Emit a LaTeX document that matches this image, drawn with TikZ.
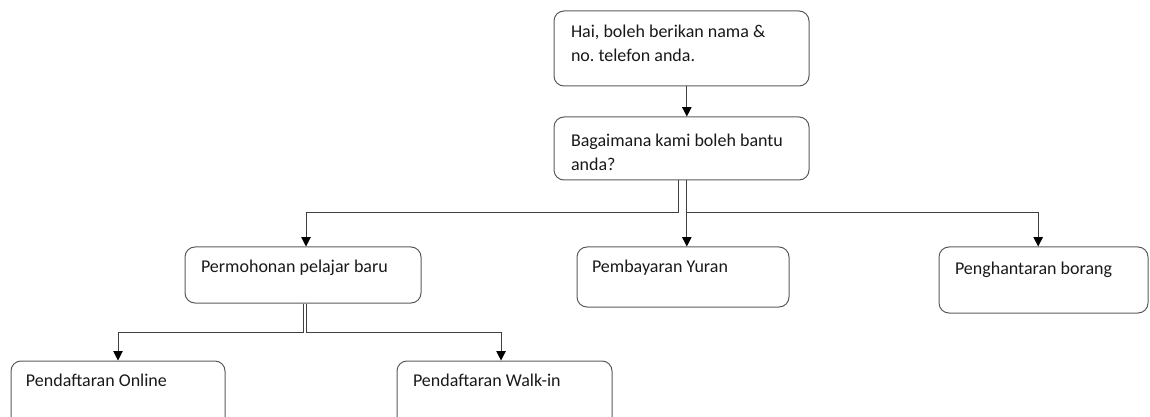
\documentclass[tikz,border=0pt]{standalone}
\usepackage{fontspec}
\setmainfont{Carlito}
\usetikzlibrary{arrows.meta}
\definecolor{lineGray}{RGB}{64,64,64}
\definecolor{boxGray}{RGB}{90,90,90}
\tikzset{every picture/.style={line width=0.75pt}}
\tikzset{
flowbox/.style={draw=boxGray, rounded corners=7.5pt, inner sep=0pt},
boxtext/.style={anchor=base west, inner sep=0pt, align=left, text=black!90,
  font=\fontsize{13.5pt}{18pt}\selectfont},
flowarrow/.style={draw=lineGray, -{Triangle[length=7pt,width=7pt,color=black]}},
flowline/.style={draw=lineGray}}

\begin{document}
\begin{tikzpicture}[x=0.75pt,y=0.75pt,yscale=-1,xscale=1]
\useasboundingbox (0,0) rectangle (1150,417);

% Boxes
\node[flowbox, minimum width=191.25pt, minimum height=56.25pt] (greet) at (681.5,48.5) {};
\node[flowbox, minimum width=191.25pt, minimum height=47.25pt] (ask) at (681.5,148.5) {};
\node[flowbox, minimum width=177pt, minimum height=42pt] (newstudent) at (303,275) {};
\node[flowbox, minimum width=159pt, minimum height=45pt] (fees) at (683,277) {};
\node[flowbox, minimum width=156.75pt, minimum height=49.5pt] (forms) at (1043.5,280) {};
\node[flowbox, minimum width=160.5pt, minimum height=54pt] (online) at (118,397) {};
\node[flowbox, minimum width=161.25pt, minimum height=54pt] (walkin) at (504.5,397) {};

% Text Node (two lines: base sits on the last line)
\node[boxtext] (greet-t) at ([shift={(17,51)}]greet.north west) {Hai, boleh berikan nama \&\\no.\ telefon anda.};
% Text Node
\node[boxtext] (ask-t) at ([shift={(17,54)}]ask.north west) {Bagaimana kami boleh bantu\\anda?};
% Text Node
\node[boxtext] (newstudent-t) at ([shift={(16,26)}]newstudent.north west) {Permohonan pelajar baru};
% Text Node
\node[boxtext] (fees-t) at ([shift={(15,26)}]fees.north west) {Pembayaran Yuran};
% Text Node
\node[boxtext] (forms-t) at ([shift={(16,28)}]forms.north west) {Penghantaran borang};
% Text Node
\node[boxtext] (online-t) at ([shift={(15,26)}]online.north west) {Pendaftaran Online};
% Text Node
\node[boxtext] (walkin-t) at ([shift={(16,26)}]walkin.north west) {Pendaftaran Walk-in};

% Connectors
\coordinate (lvlone) at (0,213);
\coordinate (lvltwo) at (0,332);
\draw[flowarrow] ([xshift=4pt]greet.south) -- ([xshift=4pt]ask.north);
\draw[flowarrow] ([xshift=-2.6pt]ask.south) |- ([xshift=2.25pt]newstudent.north |- lvlone) -- ([xshift=2.25pt]newstudent.north);
\draw[flowarrow] ([xshift=4pt]ask.south) -- ([xshift=4pt]ask.south |- fees.north);
\draw[flowarrow] ([xshift=4pt]ask.south |- lvlone) -| ([xshift=-4pt]forms.north);
\draw[flowarrow] (newstudent.south) |- (online.north |- lvltwo) -- (online.north);
\draw[flowarrow] ([xshift=2.25pt]newstudent.south) |- ([xshift=-2.6pt]walkin.north |- lvltwo) -- ([xshift=-2.6pt]walkin.north);

\end{tikzpicture}
\end{document}
